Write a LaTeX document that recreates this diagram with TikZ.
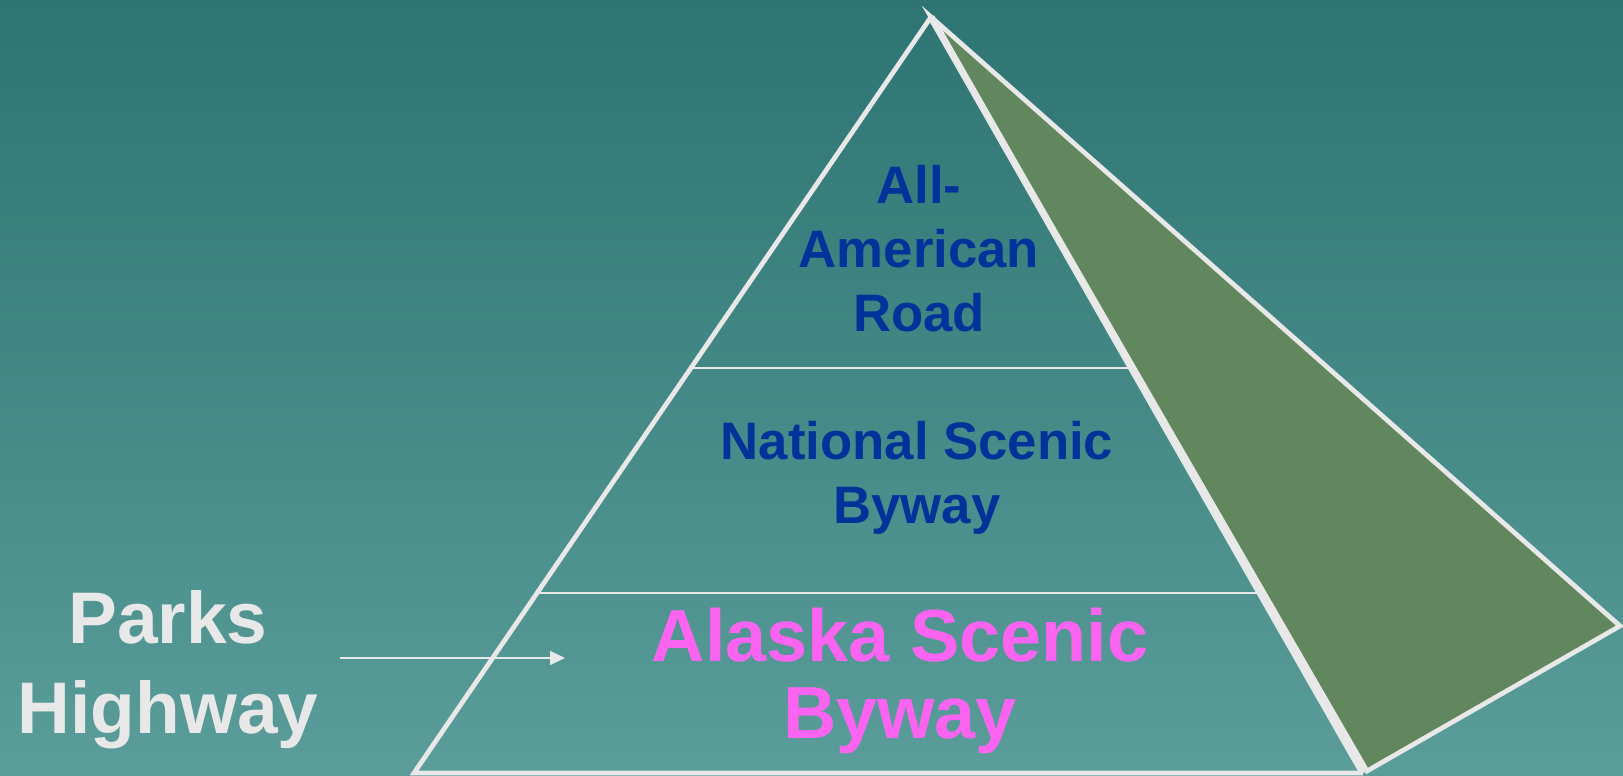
\documentclass[tikz,border=0pt]{standalone}
\usepackage{fontspec}
\setmainfont{Liberation Sans}
\usetikzlibrary{arrows.meta,calc}
\definecolor{bgtop}{RGB}{45,116,114}
\definecolor{bgbottom}{RGB}{90,157,154}
\definecolor{sidegreen}{RGB}{98,135,94}
\definecolor{edgegray}{RGB}{232,232,232}
\definecolor{tierblue}{RGB}{0,51,153}
\definecolor{tierpink}{RGB}{250,100,240}

\begin{document}
\begin{tikzpicture}[x=0.1mm,y=0.1mm,
  edge/.style={draw=edgegray,line width=1.35pt,line join=miter},
  tierrule/.style={draw=edgegray,line width=0.55pt},
  tier/.style={font=\bfseries\fontsize{15}{18.2}\selectfont,text=tierblue,align=center},
  bigtier/.style={font=\bfseries\fontsize{21}{22}\selectfont,text=tierpink,align=center},
  sidelabel/.style={font=\bfseries\fontsize{20.8}{25.6}\selectfont,text=edgegray,align=center}]
\useasboundingbox (0,0) rectangle (1623,776);
\fill[top color=bgtop,bottom color=bgbottom] (0,0) rectangle (1623,776);
% pyramid corners
\coordinate (apex) at (931,759);
\coordinate (bl) at (414,3);
\coordinate (br) at (1363,3);
\coordinate (tip) at (1620,150);
\coordinate (sb) at (1367,5);
% side face
\filldraw[edge,fill=sidegreen] (apex) -- (tip) -- (sb) -- cycle;
% front face
\draw[edge] (br) -- (bl) -- (apex);
\draw[edge,line width=2pt] (apex) -- (br);
\foreach \t in {0.4643,0.7619}{
  \draw[tierrule] ($(apex)!\t!(bl)$) -- ($(apex)!\t!(br)$);
}
% tiers
\node[tier] (aar) at (919,527) {All-\\American\\Road};
\node[tier] (nsb) at (917,298) {National Scenic\\Byway};
\node[bigtier] (asb) at (900,95) {Alaska Scenic\\Byway};
% label and pointer
\node[sidelabel] (parks) at (168,106) {Parks\\Highway};
\coordinate (ptail) at (340,118);
\coordinate (phead) at (565,118);
\draw[draw=edgegray,line width=0.45pt,-{Triangle[length=1.5mm,width=1.4mm]}] (ptail) -- (phead);
\end{tikzpicture}
\end{document}
